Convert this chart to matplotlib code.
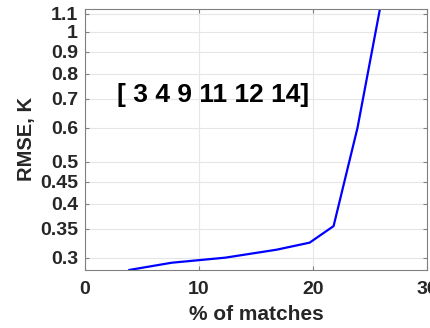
import matplotlib
matplotlib.use("Agg")
import matplotlib.pyplot as plt
from matplotlib.ticker import FixedLocator, NullLocator

# % of matches vs RMSE
pct_matches = [3.9, 7.6, 12.3, 16.8, 19.7, 21.8, 23.9, 26.3]
rmse = [0.281, 0.292, 0.300, 0.313, 0.325, 0.355, 0.60, 1.30]

y_ticks = [0.3, 0.35, 0.4, 0.45, 0.5, 0.6, 0.7, 0.8, 0.9, 1, 1.1]
y_tick_labels = ['0.3', '0.35', '0.4', '0.45', '0.5', '0.6', '0.7', '0.8', '0.9', '1', '1.1']
x_ticks = [0, 10, 20, 30]
annotation = '[ 3 4 9 11 12 14]'

plt.rcParams['font.family'] = ['Liberation Sans', 'DejaVu Sans']
plt.rcParams['font.weight'] = 'bold'

fig = plt.figure(figsize=(4.31, 3.28), dpi=100)
ax = fig.add_axes([0.197, 0.177, 0.794, 0.796])

ax.plot(pct_matches, rmse, color=(0, 0, 1), lw=1.6)
ax.set_yscale('log')
ax.set_xlim(0, 30)
ax.set_ylim(0.281, 1.13)

ax.yaxis.set_major_locator(FixedLocator(y_ticks))
ax.set_yticklabels(y_tick_labels)
ax.yaxis.set_minor_locator(NullLocator())
ax.set_xticks(x_ticks)

ax.grid(True, color='#e6e6e6', lw=0.8)
ax.set_axisbelow(True)
for s in ax.spines.values():
    s.set_color('#808080')
    s.set_linewidth(0.8)

ax.tick_params(axis='both', which='both', direction='in', top=True, right=True,
               length=3, color='#808080', labelsize=14, labelcolor='#262626')
ax.tick_params(axis='x', pad=8)
ax.tick_params(axis='y', pad=5)
for lab in ax.get_xticklabels() + ax.get_yticklabels():
    lab.set_fontweight('bold')

ax.set_xlabel('% of matches', fontsize=15, fontweight='bold', color='#262626', labelpad=5)
ax.set_ylabel('RMSE, K', fontsize=14.5, fontweight='bold', color='#262626', labelpad=3)

ax.text(2.8, 0.715, annotation, fontsize=19, fontweight='bold', color='black',
        va='center', ha='left')

fig.savefig('out.png', dpi=100)
